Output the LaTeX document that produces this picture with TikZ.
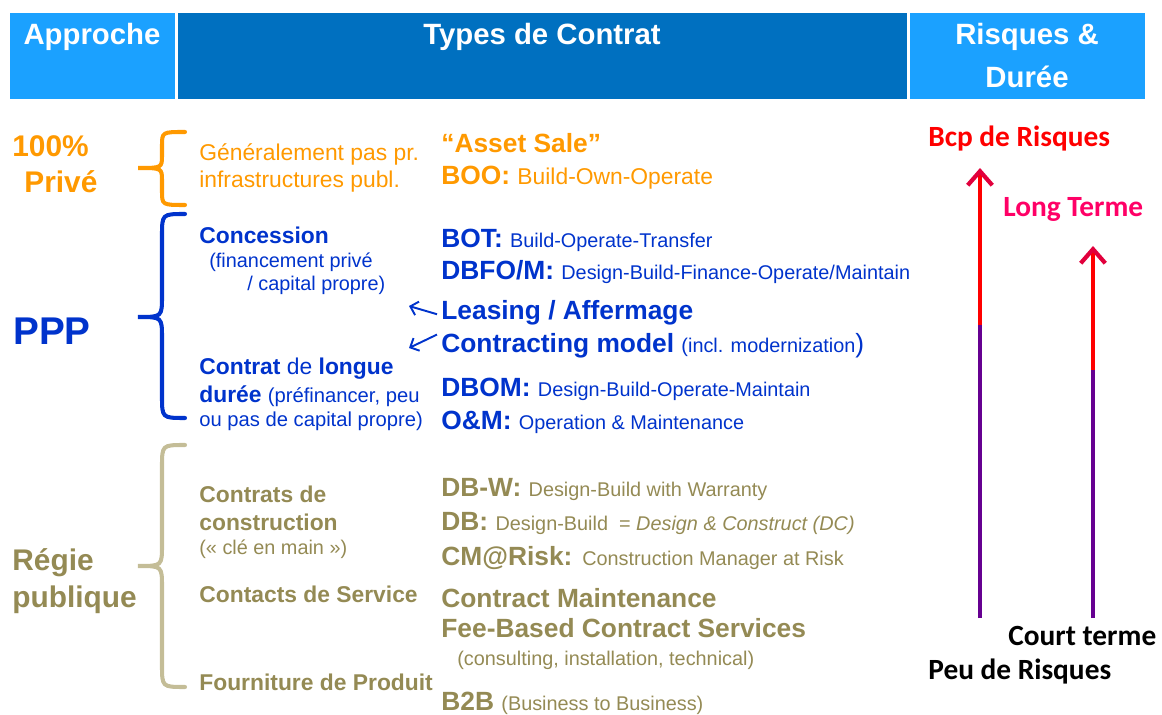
\documentclass[tikz,border=0pt]{standalone}
\usepackage{fontspec}
\setmainfont{Liberation Sans}
\newfontfamily\calibfont{Carlito}
\usetikzlibrary{arrows.meta, calc}

\definecolor{hdrlight}{RGB}{27,161,255}
\definecolor{hdrdark}{RGB}{0,112,192}
\definecolor{prive}{RGB}{255,153,0}
\definecolor{ppp}{RGB}{0,51,204}
\definecolor{regie}{RGB}{148,138,84}
\definecolor{regiebrace}{RGB}{196,189,151}
\definecolor{riskred}{RGB}{255,0,0}
\definecolor{termpink}{RGB}{255,0,102}
\definecolor{lowpurple}{RGB}{102,0,145}
\definecolor{tipred}{RGB}{225,0,60}

\newcommand{\fs}[1]{\fontsize{#1}{#1}\selectfont}

\begin{document}
\begin{tikzpicture}[x=0.02cm, y=-0.02cm,
	every node/.style={inner sep=0pt, anchor=base west},
	hdr/.style={text=white, font=\fs{16.7}\bfseries, anchor=base},
	grp/.style={font=\fs{17}\bfseries},
	sub/.style={font=\fs{13}},
	subb/.style={font=\fs{13}\bfseries},
	note/.style={font=\fs{11.3}},
	acr/.style={font=\fs{15}\bfseries},
	side/.style={font=\calibfont\fs{16.7}\bfseries},
	brace/.style={line width=2.3pt, line cap=round},
	risk/.style={line width=2.4pt},
	pointer/.style={ppp, line width=1.1pt, -{Straight Barb[length=4pt,width=8pt]}}]
	\useasboundingbox (0,0) rectangle (1162,715);

	% header bar
	\fill[hdrlight] (10,13) rectangle (175,99);
	\fill[hdrdark] (178,13) rectangle (907,99);
	\fill[hdrlight] (910,13) rectangle (1145,99);
	\node[hdr] (approche) at (92,45) {Approche};
	\node[hdr] (types) at (542,45) {Types de Contrat};
	\node[hdr] (risques) at (1027,45) {Risques \&};
	\node[hdr] (duree) at (1027,88) {Durée};

	% approaches
	\node[grp, prive] (cent) at (12,157) {100\%};
	\node[grp, prive] (privat) at (24,193) {Privé};
	\node[grp, ppp, font=\fs{22}\bfseries] (pppl) at (13,345) {PPP};
	\node[grp, regie] (regie1) at (12,570) {Régie};
	\node[grp, regie] (regie2) at (12,607) {publique};

	% braces
	\draw[brace, prive] (185,132) .. controls (162,132) .. (162,146) -- (162,155)
		.. controls (162,168) .. (138,168) .. controls (162,168) .. (162,181)
		-- (162,191) .. controls (162,205) .. (185,205);
	\draw[brace, ppp] (185,214) .. controls (162,214) .. (162,236) -- (162,296)
		.. controls (162,317) .. (138,317) .. controls (162,317) .. (162,338)
		-- (162,396) .. controls (162,418) .. (185,418);
	\draw[brace, regiebrace] (185,445) .. controls (162,445) .. (162,467) -- (162,545)
		.. controls (162,566) .. (138,566) .. controls (162,566) .. (162,587)
		-- (162,665) .. controls (162,687) .. (185,687);

	% private
	\node[sub, prive] (gen1) at (199,161) {Généralement pas pr.};
	\node[sub, prive] (gen2) at (199,188) {infrastructures publ.};
	\node[acr, prive] (asset) at (441,153) {“Asset Sale”};
	\node[acr, prive] (boo) at (441,185) {BOO: {\fs{13}\mdseries Build-Own-Operate}};

	% ppp
	\node[subb, ppp] (conc) at (199,244) {Concession};
	\node[note, ppp] (fin1) at (209,268) {(financement privé};
	\node[note, ppp] (fin2) at (247,291) {/ capital propre)};
	\node[subb, ppp] (long1) at (199,375) {Contrat {\mdseries de} longue};
	\node[subb, ppp] (long2) at (199,403) {durée {\fs{11.5}\mdseries (préfinancer, peu}};
	\node[note, ppp, font=\fs{11.5}] (long3) at (199,427) {ou pas de capital propre)};
	\node[acr, ppp] (bot) at (441,248) {BOT: {\fs{11.3}\mdseries Build-Operate-Transfer}};
	\node[acr, ppp] (dbfo) at (441,280) {DBFO/M: {\fs{11.3}\mdseries Design-Build-Finance-Operate/Maintain}};
	\node[acr, ppp] (lease) at (441,320) {Leasing / Affermage};
	\node[acr, ppp] (cmodel) at (441,353) {Contracting model {\fs{11.3}\mdseries (incl. modernization}{\fs{15}\mdseries )}};
	\node[acr, ppp] (dbom) at (441,397) {DBOM: {\fs{11.3}\mdseries Design-Build-Operate-Maintain}};
	\node[acr, ppp] (om) at (441,430) {O\&M: {\fs{11.3}\mdseries Operation \& Maintenance}};
	\coordinate (toconc) at (409,306);
	\coordinate (tolong) at (409,348);
	\draw[pointer] ($(lease.west)+(-4,1)$) -- (toconc);
	\draw[pointer] ($(cmodel.north west)+(-4,1)$) -- (tolong);

	% public
	\node[subb, regie] (constr1) at (199,502) {Contrats de};
	\node[subb, regie] (constr2) at (199,530) {construction};
	\node[note, regie] (cle) at (199,554) {(« clé en main »)};
	\node[subb, regie] (service) at (199,602) {Contacts de Service};
	\node[subb, regie] (produit) at (199,690) {Fourniture de Produit};
	\node[acr, regie] (dbw) at (441,497) {DB-W: {\fs{11.3}\mdseries Design-Build with Warranty}};
	\node[acr, regie] (db) at (441,531) {DB: {\fs{11.3}\mdseries Design-Build \ = \textit{Design \& Construct (DC)}}};
	\node[acr, regie] (cmrisk) at (441,565) {CM@Risk: {\fs{11.3}\mdseries Construction Manager at Risk}};
	\node[acr, regie] (cmaint) at (441,607) {Contract Maintenance};
	\node[acr, regie] (fee) at (441,637) {Fee-Based Contract Services};
	\node[note, regie] (consult) at (457,665) {(consulting, installation, technical)};
	\node[acr, regie] (btob) at (441,710) {B2B {\fs{11.3}\mdseries (Business to Business)}};

	% risk and duration scales
	\node[side, riskred] (bcp) at (928,147) {Bcp de Risques};
	\node[side, termpink] (longt) at (1003,217) {Long Terme};
	\node[side] (court) at (1008,645) {Court terme};
	\node[side] (peu) at (928,679) {Peu de Risques};
	\coordinate (r1bot) at (980,618);
	\coordinate (r1mid) at (980,325);
	\coordinate (r1top) at (980,168);
	\coordinate (t2bot) at (1093,618);
	\coordinate (t2mid) at (1093,370);
	\coordinate (t2top) at (1093,246);
	\draw[risk, lowpurple] (r1bot) -- (r1mid);
	\draw[risk, riskred, -{Straight Barb[length=8pt,width=14pt,color=tipred]}] (r1mid) -- (r1top);
	\draw[risk, lowpurple] (t2bot) -- (t2mid);
	\draw[risk, riskred, -{Straight Barb[length=8pt,width=14pt,color=tipred]}] (t2mid) -- (t2top);
\end{tikzpicture}
\end{document}
